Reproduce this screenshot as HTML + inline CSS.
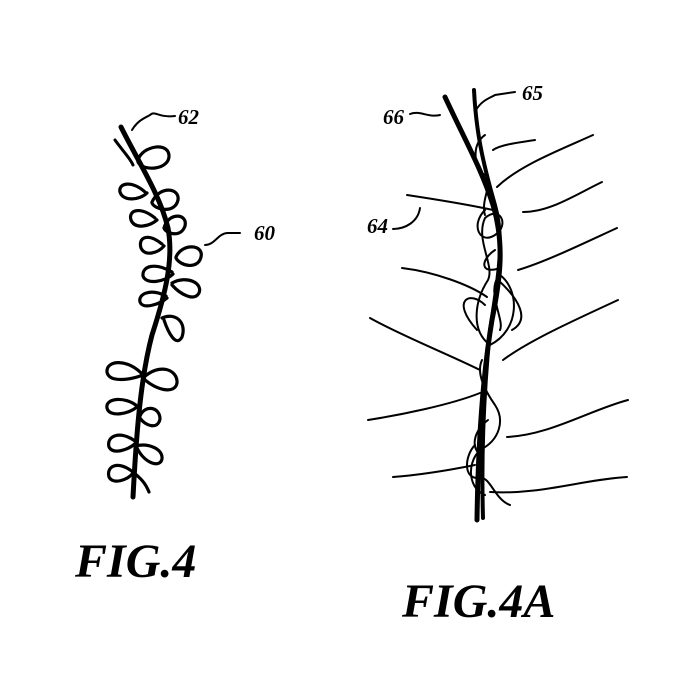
<!DOCTYPE html><html><head><style>body{margin:0;background:#fff}svg{display:block}</style></head><body>
<svg width="700" height="700" viewBox="0 0 700 700" xmlns="http://www.w3.org/2000/svg" fill="none" stroke="#000" stroke-linecap="round">
<!-- FIG 4 -->
<path d="M121,127 C140,165 160,195 168,228 C174,260 165,295 152,335 C140,380 136,440 133,497" stroke-width="5"/>
<path d="M115,140 C122,150 130,158 133,165" stroke-width="3"/>
<g stroke-width="3.2">
<path d="M138,162 C138,148 167,140 169,155 C170,170 143,172 138,162"/>
<path d="M145,192 C132,180 118,183 120,192 C123,202 140,200 147,193"/>
<path d="M152,202 C160,185 180,188 178,200 C175,214 155,210 152,203"/>
<path d="M155,218 C140,206 128,210 131,220 C135,230 150,226 157,220"/>
<path d="M164,228 C168,212 188,213 185,226 C181,238 166,234 164,228"/>
<path d="M162,244 C147,232 138,238 141,248 C145,257 158,253 164,246"/>
<path d="M176,257 C182,243 204,244 201,257 C198,270 180,266 176,258"/>
<path d="M172,272 C155,262 142,266 143,276 C146,285 165,282 173,274"/>
<path d="M172,283 C187,275 203,283 199,293 C194,302 180,294 172,285"/>
<path d="M166,296 C150,288 138,294 140,302 C143,310 160,304 167,298"/>
<path d="M162,318 C175,312 187,322 182,337 C176,348 168,332 164,320"/>
<path d="M143,375 C128,358 106,360 107,372 C109,383 130,380 143,375"/>
<path d="M143,378 C160,362 178,370 177,383 C175,395 155,390 143,378"/>
<path d="M137,406 C125,396 105,398 107,408 C109,418 130,414 138,406"/>
<path d="M140,416 C145,404 160,407 160,419 C158,430 145,426 140,418"/>
<path d="M135,441 C120,430 106,436 109,447 C113,455 128,450 136,443"/>
<path d="M136,446 C147,443 163,448 162,459 C160,468 145,464 137,448"/>
<path d="M133,472 C118,460 106,466 109,477 C113,485 128,480 133,473"/>
<path d="M133,472 C140,478 145,482 149,492"/>
</g>
<path d="M132,130 C138,120 145,118 150,115 C155,110 158,118 175,116" stroke-width="2"/>
<path d="M205,245 C215,245 218,233 228,233 L240,233" stroke-width="2"/>
<g font-family="Liberation Serif,serif" font-style="italic" font-weight="bold" fill="#000" stroke="none">
<text x="178" y="124" font-size="21">62</text>
<text x="254" y="240" font-size="21">60</text>
<text x="75" y="577" font-size="48">FIG.4</text>
<text x="402" y="617" font-size="48">FIG.4A</text>
<text x="383" y="124" font-size="21">66</text>
<text x="522" y="100" font-size="21">65</text>
<text x="367" y="233" font-size="21">64</text>
</g>
<!-- FIG 4A -->
<path d="M445,97 C465,140 482,170 493,205 C505,245 500,280 492,320 C482,380 478,450 477,520" stroke-width="5"/>
<path d="M474,90 C476,130 482,160 495,205 C505,240 498,280 490,330 C484,390 481,450 483,518" stroke-width="4"/>
<path d="M410,114 C420,110 428,118 440,115" stroke-width="2"/>
<path d="M476,110 C482,100 490,98 495,95 L515,92" stroke-width="2"/>
<path d="M393,229 C405,229 418,222 420,208" stroke-width="2"/>
<g stroke-width="2">
<path d="M535,140 C515,143 500,145 493,150"/>
<path d="M593,135 C560,150 520,165 497,187"/>
<path d="M602,182 C575,195 550,212 523,212"/>
<path d="M617,228 C580,245 545,262 518,270"/>
<path d="M618,300 C575,320 530,340 503,360"/>
<path d="M628,400 C590,410 550,435 507,437"/>
<path d="M627,477 C580,480 540,495 490,492"/>
<path d="M407,195 C440,200 470,205 493,210"/>
<path d="M402,268 C435,272 470,285 487,297"/>
<path d="M370,318 C400,335 450,355 480,370"/>
<path d="M368,420 C400,415 450,405 480,393"/>
<path d="M393,477 C420,475 450,470 475,465"/>
<path d="M485,135 C470,145 475,170 485,175 C495,180 480,200 485,215"/>
<path d="M485,210 C470,225 480,245 495,235 C510,225 500,205 485,218 C475,240 495,265 488,280 C475,300 470,330 490,345 C520,330 520,290 500,275 C485,290 505,320 500,330"/>
<path d="M495,250 C480,260 480,275 500,268"/>
<path d="M485,305 C470,290 450,300 477,330"/>
<path d="M498,280 C520,300 530,320 512,330"/>
<path d="M482,360 C475,375 488,395 495,405 C505,420 500,440 480,450 C465,465 470,490 485,495"/>
<path d="M475,445 C465,455 462,480 480,478 C490,476 495,500 510,505"/>
<path d="M488,420 C475,430 470,445 480,455"/>
</g>
</svg>
</body></html>
